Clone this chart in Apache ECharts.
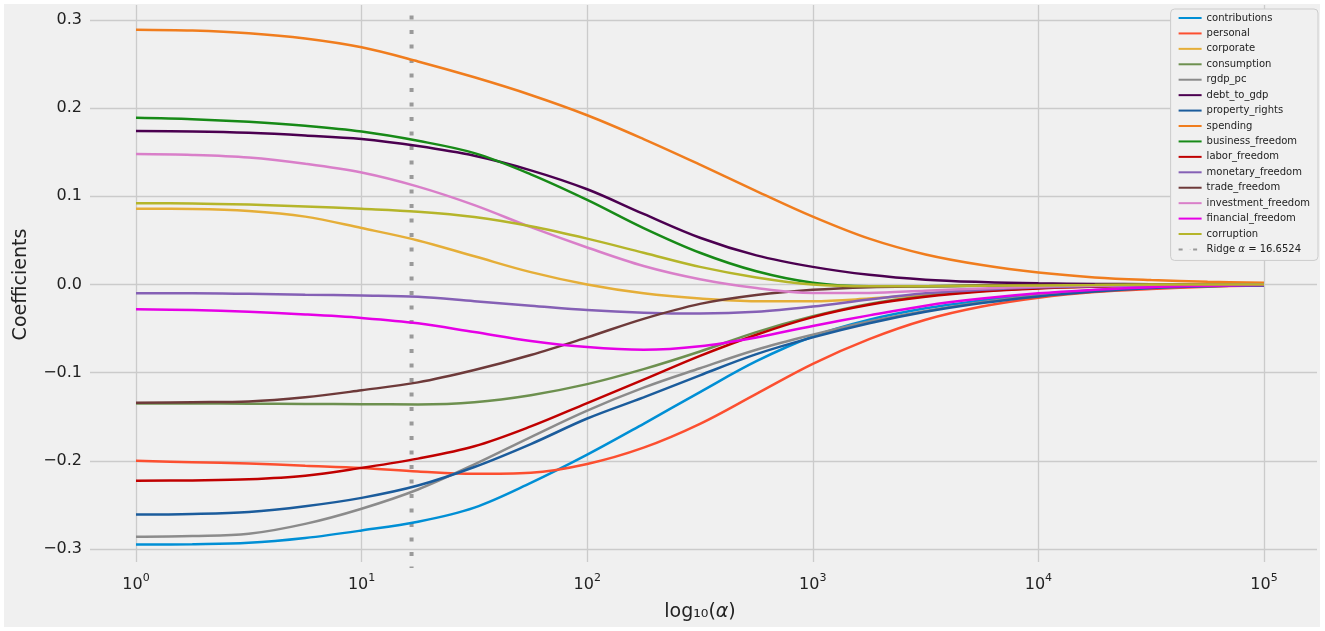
<!DOCTYPE html>
<html>
<head>
<meta charset="utf-8">
<script src="https://cdn.jsdelivr.net/npm/echarts@6/dist/echarts.min.js"></script>
<style>
  html, body { margin: 0; padding: 0; background: #ffffff; }
  #wrap { position: relative; width: 1325px; height: 631px; background: #ffffff; overflow: hidden; }
  #chart { position: absolute; left: 4px; top: 4px; width: 1316px; height: 623px; background: #f0f0f0; }
</style>
</head>
<body>
<div id="wrap"><div id="chart"></div></div>
<script>
// alpha values (log-spaced samples, quarter decades)
const alphas = [1, 1.778, 3.162, 5.623, 10, 17.78, 31.62, 56.23, 100, 177.8, 316.2, 562.3, 1000, 1778, 3162, 5623, 10000, 17783, 31623, 56234, 100000];

const contributions = [-0.295, -0.2945, -0.293, -0.2875, -0.279, -0.269, -0.253, -0.225, -0.193, -0.158, -0.122, -0.087, -0.059, -0.040, -0.027, -0.018, -0.011, -0.0065, -0.0035, -0.0017, -0.0006];
const personal = [-0.200, -0.2015, -0.203, -0.2055, -0.208, -0.212, -0.2147, -0.2135, -0.2035, -0.185, -0.158, -0.124, -0.090, -0.062, -0.040, -0.025, -0.0150, -0.0085, -0.0050, -0.0025, -0.001];
const corporate = [0.086, 0.0857, 0.0835, 0.077, 0.064, 0.050, 0.032, 0.014, 0.000, -0.010, -0.016, -0.019, -0.019, -0.016, -0.0115, -0.007, -0.004, -0.002, -0.001, -0.0005, 0];
const consumption = [-0.135, -0.135, -0.1352, -0.1355, -0.1357, -0.136, -0.1335, -0.1255, -0.113, -0.096, -0.076, -0.054, -0.036, -0.022, -0.013, -0.0075, -0.004, -0.002, -0.001, -0.0005, 0];
const rgdp_pc = [-0.286, -0.2852, -0.2827, -0.2715, -0.2543, -0.2325, -0.204, -0.173, -0.143, -0.117, -0.095, -0.074, -0.057, -0.042, -0.030, -0.020, -0.0125, -0.007, -0.004, -0.002, -0.001];
const debt_to_gdp = [0.174, 0.1735, 0.172, 0.169, 0.165, 0.157, 0.146, 0.1295, 0.108, 0.080, 0.053, 0.033, 0.020, 0.011, 0.0055, 0.0028, 0.0013, 0.0007, 0.0004, 0.0002, 0];
const property_rights = [-0.261, -0.2603, -0.258, -0.2515, -0.242, -0.228, -0.207, -0.181, -0.152, -0.128, -0.103, -0.079, -0.060, -0.044, -0.031, -0.021, -0.0135, -0.008, -0.004, -0.002, -0.001];
const spending = [0.289, 0.288, 0.285, 0.279, 0.269, 0.253, 0.235, 0.215, 0.192, 0.165, 0.136, 0.106, 0.077, 0.052, 0.034, 0.022, 0.0135, 0.008, 0.005, 0.003, 0.002];
const business_freedom = [0.189, 0.1875, 0.1845, 0.180, 0.1735, 0.163, 0.149, 0.125, 0.096, 0.064, 0.036, 0.015, 0.002, -0.002, -0.002, -0.0015, -0.001, -0.0005, 0, 0, 0];
const labor_freedom = [-0.2226, -0.2222, -0.221, -0.217, -0.208, -0.1975, -0.1835, -0.161, -0.1345, -0.108, -0.081, -0.057, -0.037, -0.023, -0.014, -0.008, -0.0045, -0.0025, -0.0012, -0.0005, 0];
const monetary_freedom = [-0.010, -0.010, -0.0106, -0.0115, -0.0125, -0.014, -0.019, -0.024, -0.029, -0.032, -0.033, -0.031, -0.025, -0.017, -0.010, -0.006, -0.0035, -0.002, -0.001, -0.0005, 0];
const trade_freedom = [-0.134, -0.1335, -0.1327, -0.128, -0.120, -0.111, -0.097, -0.080, -0.060, -0.039, -0.022, -0.012, -0.006, -0.003, -0.002, -0.0012, -0.0007, -0.0004, -0.0002, 0, 0];
const investment_freedom = [0.148, 0.147, 0.144, 0.137, 0.127, 0.111, 0.090, 0.065, 0.042, 0.021, 0.006, -0.004, -0.0095, -0.0095, -0.007, -0.0045, -0.0025, -0.0013, -0.0007, -0.0003, 0];
const financial_freedom = [-0.028, -0.029, -0.031, -0.034, -0.038, -0.044, -0.054, -0.064, -0.071, -0.074, -0.070, -0.060, -0.047, -0.035, -0.024, -0.016, -0.010, -0.006, -0.003, -0.0015, -0.0005];
const corruption = [0.0922, 0.092, 0.0907, 0.0885, 0.0858, 0.0825, 0.0765, 0.066, 0.052, 0.036, 0.020, 0.008, 0.000, -0.002, -0.002, -0.0015, -0.001, -0.0005, 0, 0, 0];

const seriesNames = ['contributions', 'personal', 'corporate', 'consumption', 'rgdp_pc', 'debt_to_gdp', 'property_rights', 'spending', 'business_freedom', 'labor_freedom', 'monetary_freedom', 'trade_freedom', 'investment_freedom', 'financial_freedom', 'corruption'];
const seriesValues = [contributions, personal, corporate, consumption, rgdp_pc, debt_to_gdp, property_rights, spending, business_freedom, labor_freedom, monetary_freedom, trade_freedom, investment_freedom, financial_freedom, corruption];
const seriesColors = ['#008fd5', '#fc4f30', '#e5ae38', '#6d904f', '#8b8b8b', '#4b0050', '#1b5c9c', '#f07d1e', '#178a17', '#c00000', '#8560b5', '#6e3a3a', '#d97fc9', '#e600e6', '#b5b52a'];

const ridgeAlpha = 16.6524;
const ridgeName = 'Ridge α = 16.6524';
const ridgeSpan = [0.305, -0.3215];

const yTicks = [-0.3, 0.3, 0.1];       // min, max, step
const xDecades = [1, 100000];

const FONT = 'DejaVu Sans';
const GRID_COLOR = '#cbcbcb';

const chart = echarts.init(document.getElementById('chart'), null, { renderer: 'canvas' });

const series = seriesNames.map((n, i) => ({
  name: n,
  type: 'line',
  xAxisIndex: 1,
  yAxisIndex: 1,
  data: alphas.map((a, j) => [a, seriesValues[i][j]]),
  smooth: 0.35,
  symbol: 'none',
  showSymbol: false,
  color: seriesColors[i],
  lineStyle: { width: 2.5, color: seriesColors[i] },
  emphasis: { disabled: true },
  clip: false,
  z: 3 + i * 0.01
}));

series.push({
  name: ridgeName,
  type: 'line',
  xAxisIndex: 1,
  yAxisIndex: 1,
  data: ridgeSpan.map(v => [ridgeAlpha, v]),
  symbol: 'none',
  showSymbol: false,
  color: '#9a9a9a',
  lineStyle: { width: 4, color: '#9a9a9a', type: [4, 10.5], cap: 'butt' },
  emphasis: { disabled: true },
  clip: false,
  z: 2
});

const option = {
  animation: false,
  backgroundColor: '#f0f0f0',
  textStyle: { fontFamily: FONT },
  grid: [
    { left: 79, right: 3, top: 16, bottom: 78, containLabel: false },   // horizontal grid + y labels
    { left: 132, right: 56, top: 16, bottom: 78, containLabel: false },  // data
    { left: 132, right: 56, top: 1, bottom: 59, containLabel: false }    // vertical grid + x labels
  ],
  xAxis: [
    { gridIndex: 0, type: 'value', min: 0, max: 1, show: false },
    { gridIndex: 1, type: 'log', logBase: 10, min: xDecades[0], max: xDecades[1], show: false },
    {
      gridIndex: 2, type: 'log', logBase: 10, min: xDecades[0], max: xDecades[1],
      axisLine: { show: false }, axisTick: { show: false }, minorTick: { show: false },
      splitLine: { show: true, lineStyle: { color: GRID_COLOR, width: 1.3 } },
      axisLabel: {
        margin: 11,
        formatter: v => '{b|10}{s|' + Math.round(Math.log10(v)) + '}',
        rich: {
          b: { fontFamily: FONT, fontSize: 16, color: '#222', lineHeight: 20, verticalAlign: 'bottom' },
          s: { fontFamily: FONT, fontSize: 11, color: '#222', lineHeight: 20, verticalAlign: 'top' }
        }
      },
      name: '{a|log₁₀(}{i|α}{a|)}',
      nameLocation: 'middle',
      nameGap: 41,
      nameTextStyle: {
        rich: {
          a: { fontFamily: FONT, fontSize: 19, color: '#222' },
          i: { fontFamily: FONT, fontSize: 19, fontStyle: 'italic', color: '#222' }
        }
      }
    }
  ],
  yAxis: [
    {
      gridIndex: 0, type: 'value', min: yTicks[0], max: yTicks[1], interval: yTicks[2],
      axisLine: { show: false }, axisTick: { show: false },
      splitLine: { show: true, lineStyle: { color: GRID_COLOR, width: 1.3 } },
      axisLabel: {
        margin: 8, fontFamily: FONT, fontSize: 16, color: '#222',
        formatter: v => (v < -1e-9 ? '\u2212' : '') + Math.abs(v).toFixed(1)
      },
      name: 'Coefficients',
      nameLocation: 'middle',
      nameGap: 59,
      nameTextStyle: { fontFamily: FONT, fontSize: 19, color: '#222' }
    },
    { gridIndex: 1, type: 'value', min: yTicks[0], max: yTicks[1], show: false },
    { gridIndex: 2, type: 'value', min: 0, max: 1, show: false }
  ],
  legend: {
    orient: 'vertical',
    right: 2,
    top: 5,
    padding: [3, 8, 5, 7],
    itemWidth: 23,
    itemHeight: 1,
    itemGap: 3.43,
    backgroundColor: '#f0f0f0',
    borderColor: '#cccccc',
    borderWidth: 1,
    borderRadius: 4,
    selectedMode: false,
    data: seriesNames.concat([ridgeName]),
    formatter: n => n === ridgeName ? 'Ridge {i|α} = 16.6524' : n,
    textStyle: {
      fontFamily: FONT, fontSize: 10, color: '#222', lineHeight: 12,
      rich: { i: { fontFamily: FONT, fontSize: 10, fontStyle: 'italic', color: '#222', lineHeight: 12 } }
    }
  },
  series: series
};

chart.setOption(option);
</script>
</body>
</html>
